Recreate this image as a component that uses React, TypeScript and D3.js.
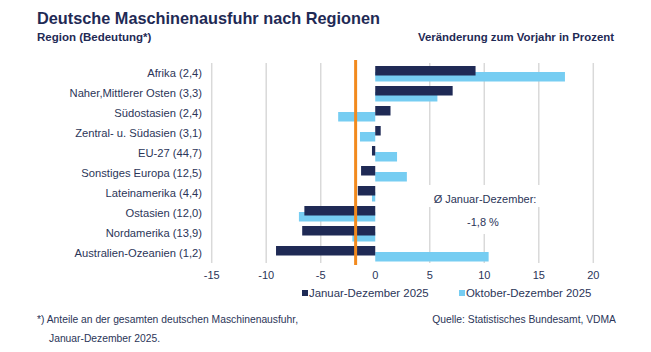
import * as d3 from "d3";

const regions = [
    "Afrika (2,4)",
    "Naher,Mittlerer Osten (3,3)",
    "Südostasien (2,4)",
    "Zentral- u. Südasien (3,1)",
    "EU-27 (44,7)",
    "Sonstiges Europa (12,5)",
    "Lateinamerika (4,4)",
    "Ostasien (12,0)",
    "Nordamerika (13,9)",
    "Australien-Ozeanien (1,2)",
];
const janDez = [9.2, 7.1, 1.4, 0.5, -0.3, -1.3, -1.6, -6.5, -6.7, -9.1];
const oktDez = [17.4, 5.7, -3.4, -1.4, 2.0, 2.9, -0.3, -7.0, -2.1, 10.4];
const seriesNames = ["Januar-Dezember 2025", "Oktober-Dezember 2025"];
const xTicks = [-15, -10, -5, 0, 5, 10, 15, 20];
const average = -1.8;

const navy = "#1f2a55";
const lightBlue = "#76cdf2";
const orange = "#f28a1e";
const textColor = "#2b3558";
const font = "'Liberation Sans', Arial, sans-serif";

export default function App() {
    const width = 651;
    const height = 352;

    const x = d3.scaleLinear().domain([-15, 20]).range([211.7, 593.3]);
    const y = d3.scaleBand<string>().domain(regions).range([63, 263]);
    // offset of each series inside a band (bars overlap a little)
    const sub = d3.scaleOrdinal<number, number>().domain([1, 0]).range([9, 3]);
    const barH = 9.5;

    const bar = (v: number, i: number, s: number, color: string) => (
        <rect
            key={`${s}-${i}`}
            x={Math.min(x(0), x(v))}
            y={(y(regions[i]) ?? 0) + sub(s)}
            width={Math.abs(x(v) - x(0))}
            height={barH}
            fill={color}
        />
    );

    return (
        <div style={{ position: "fixed", left: 0, top: 0 }}>
            <svg width={width} height={height} style={{ display: "block", background: "#fff" }} fontFamily={font}>
                <text x={37} y={24} fontSize={16.3} fontWeight="bold" fill={navy}>
                    Deutsche Maschinenausfuhr nach Regionen
                </text>
                <text x={37} y={41} fontSize={11.5} fontWeight="bold" fill={navy}>
                    Region (Bedeutung*)
                </text>
                <text x={614} y={41} fontSize={11.4} fontWeight="bold" fill={navy} textAnchor="end">
                    Veränderung zum Vorjahr in Prozent
                </text>

                {xTicks.filter((t) => t !== 0).map((t) => (
                    <line key={t} x1={x(t)} x2={x(t)} y1={63} y2={263} stroke="#d9d9d9" strokeWidth={1.5} />
                ))}

                {oktDez.map((v, i) => bar(v, i, 1, lightBlue))}
                {janDez.map((v, i) => bar(v, i, 0, navy))}

                <line x1={x(average)} x2={x(average)} y1={60} y2={265} stroke={orange} strokeWidth={3} />

                {regions.map((r) => (
                    <text
                        key={r}
                        x={202}
                        y={(y(r) ?? 0) + y.bandwidth() / 2}
                        dy="0.35em"
                        textAnchor="end"
                        fontSize={11.2}
                        fill={textColor}
                    >
                        {r}
                    </text>
                ))}

                {xTicks.map((t) => (
                    <text key={t} x={x(t)} y={279} textAnchor="middle" fontSize={11} fill={textColor}>
                        {t}
                    </text>
                ))}

                <rect x={425} y={185} width={120} height={22} fill="#fff" />
                <rect x={456} y={207} width={56} height={27} fill="#fff" />
                <text x={485} y={203} textAnchor="middle" fontSize={11} fill={textColor}>
                    Ø Januar-Dezember:
                </text>
                <text x={483} y={226} textAnchor="middle" fontSize={11} fill={textColor}>
                    {`${average.toFixed(1).replace(".", ",")} %`}
                </text>

                <rect x={302} y={290} width={6} height={6} fill={navy} />
                <text x={309} y={297} fontSize={11.4} fill={textColor}>{seriesNames[0]}</text>
                <rect x={459} y={290} width={6} height={6} fill={lightBlue} />
                <text x={466} y={297} fontSize={11.4} fill={textColor}>{seriesNames[1]}</text>

                <text x={37} y={323} fontSize={10.3} fill={textColor}>
                    *) Anteile an der gesamten deutschen Maschinenausfuhr,
                </text>
                <text x={49} y={342} fontSize={10.3} fill={textColor}>
                    Januar-Dezember 2025.
                </text>
                <text x={616} y={323} fontSize={10.3} fill={textColor} textAnchor="end">
                    Quelle: Statistisches Bundesamt, VDMA
                </text>
            </svg>
        </div>
    );
}
